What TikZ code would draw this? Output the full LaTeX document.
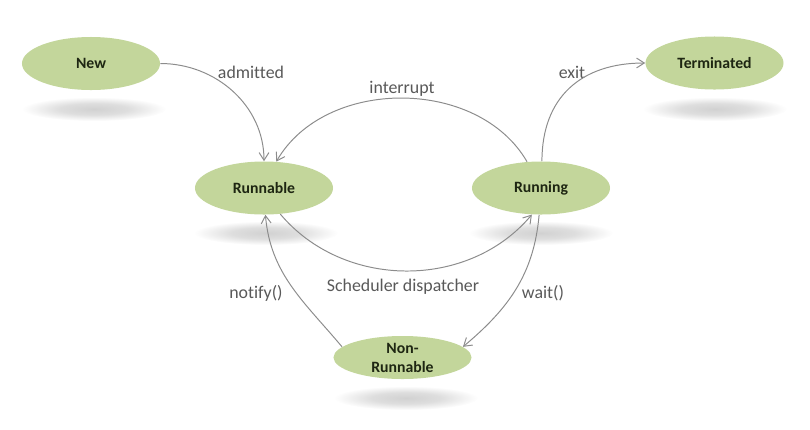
\documentclass[tikz,border=0pt]{standalone}
\usepackage{fontspec}
\setmainfont{Carlito}[Ligatures=NoCommon]
\usetikzlibrary{shapes.geometric, arrows.meta}
\definecolor{stategreen}{HTML}{C3D69B}
\definecolor{statetext}{HTML}{1E2612}
\definecolor{edgegray}{HTML}{8C8C8C}
\definecolor{labelgray}{HTML}{595959}
\pgfdeclareradialshading{shadowfade}{\pgfpoint{0bp}{0bp}}{color(0bp)=(black!18); color(12bp)=(black!13); color(25bp)=(white); color(50bp)=(white)}

\begin{document}
\begin{tikzpicture}
          [x=0.025cm, y=-0.025cm,
           state/.style={shape=ellipse, fill=stategreen, inner sep=0, minimum width=3.45cm, minimum height=1.325cm, text=statetext, align=center, font=\bfseries\fontsize{11.2}{13.5}\selectfont},
           lbl/.style={inner sep=0, text=labelgray, font=\fontsize{12.7}{15}\selectfont},
           edge/.style={draw=edgegray, line width=0.7pt, -{Straight Barb[length=5.5pt, width=7pt]}},
           shadow/.style={shading=shadowfade}]

          \useasboundingbox (0,0) rectangle (810,429);

          \shade[shadow] (94,109) ellipse [x radius=1.8cm, y radius=0.3cm];
          \shade[shadow] (715,109) ellipse [x radius=1.8cm, y radius=0.3cm];
          \shade[shadow] (266,233) ellipse [x radius=1.8cm, y radius=0.3cm];
          \shade[shadow] (541,233) ellipse [x radius=1.8cm, y radius=0.3cm];
          \shade[shadow] (406,398) ellipse [x radius=1.8cm, y radius=0.3cm];

          \node[state] (new) at (91, 63.5) {New};
          \node[state] (term) at (714.5, 63) {Terminated};
          \node[state] (runnable) at (264, 188) {Runnable};
          \node[state] (running) at (541, 188) {Running};
          \node[state, minimum height=1.075cm] (nonrun) at (402.5, 357.5) {Non-\\Runnable};

          \node[lbl] (admitted) at (251, 72) {admitted};
          \node[lbl] (exit) at (572, 72) {exit};
          \node[lbl] (interrupt) at (402, 89) {interrupt};
          \node[lbl] (dispatch) at (403, 287) {Scheduler dispatcher};
          \node[lbl] (notify) at (256, 293) {notify()};
          \node[lbl] (wait) at (543, 293) {wait()};

          \draw[edge] (new.east) to[out=0, in=90] (runnable.north);
          \draw[edge] (running.118) to[out=120, in=60] (runnable.65);
          \draw[edge] (running.88) to[out=90, in=180, looseness=1.15] (term.west);
          \draw[edge] (runnable.-58) to[out=-50, in=230] (running.251);
          \draw[edge] (running.266) to[out=-95, in=40] (nonrun.10);
          \draw[edge] (nonrun.170) to[out=130, in=-85] (runnable.-87);

        \end{tikzpicture}
\end{document}
